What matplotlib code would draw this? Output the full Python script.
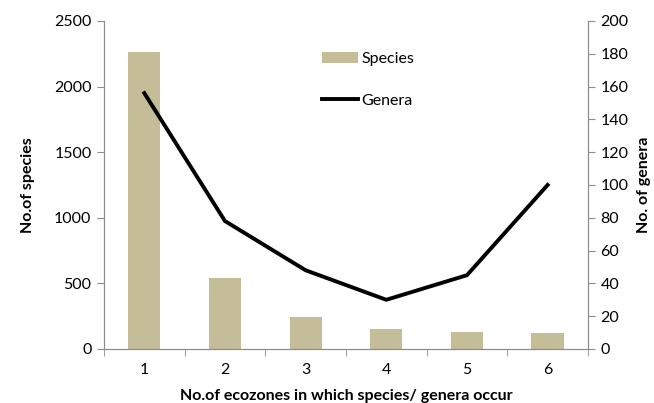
import numpy as np
import matplotlib.pyplot as plt
from matplotlib.ticker import FixedLocator

plt.rcParams['font.family'] = ['Lato', 'DejaVu Sans']

ecozones = [1, 2, 3, 4, 5, 6]
species = [2266, 539, 241, 155, 132, 124]
genera = [156, 78, 48, 30, 45, 100]

bar_color = '#C4BD97'
spine_color = '#8C8C8C'

fig = plt.figure(figsize=(6.54, 4.03), dpi=100)
ax = fig.add_axes([0.159, 0.134, 0.74, 0.814])
ax2 = ax.twinx()

x = np.array(ecozones)
bars = ax.bar(x, species, width=0.4, color=bar_color, label='Species', zorder=2)
line, = ax2.plot(x, genera, color='black', linewidth=2.8, label='Genera', zorder=3)

ax.set_xlim(0.5, 6.5)
ax.set_ylim(0, 2500)
ax.set_yticks(np.arange(0, 2501, 500))
ax2.set_ylim(0, 200)
ax2.set_yticks(np.arange(0, 201, 20))

fs = 11.5
ax.set_xticks(x)
ax.xaxis.set_minor_locator(FixedLocator(np.arange(0.5, 6.6, 1)))
ax.tick_params(axis='x', which='major', length=0, pad=10, labelsize=fs)
ax.tick_params(axis='x', which='minor', length=5, color=spine_color, direction='out')
ax.tick_params(axis='y', length=5, color=spine_color, labelsize=fs, pad=4)
ax2.tick_params(axis='y', length=5, color=spine_color, labelsize=fs, pad=4)

for a in (ax, ax2):
    a.spines['top'].set_visible(False)
    for s in ('left', 'right', 'bottom'):
        a.spines[s].set_color(spine_color)

ax.set_xlabel('No.of ecozones in which species/ genera occur', fontweight='bold', fontsize=fs, labelpad=9)
ax.set_ylabel('No.of species', fontweight='bold', fontsize=fs, labelpad=14)
ax2.set_ylabel('No. of genera', fontweight='bold', fontsize=fs, labelpad=6)

ax.set_zorder(ax2.get_zorder() - 1)
ax2.patch.set_visible(False)
ax.legend([bars, line], ['Species', 'Genera'], loc='upper left',
          bbox_to_anchor=(0.42, 0.95), frameon=False, fontsize=fs,
          handlelength=2.3, handletextpad=0.2, labelspacing=1.75)

fig.savefig('out.png', dpi=100)
